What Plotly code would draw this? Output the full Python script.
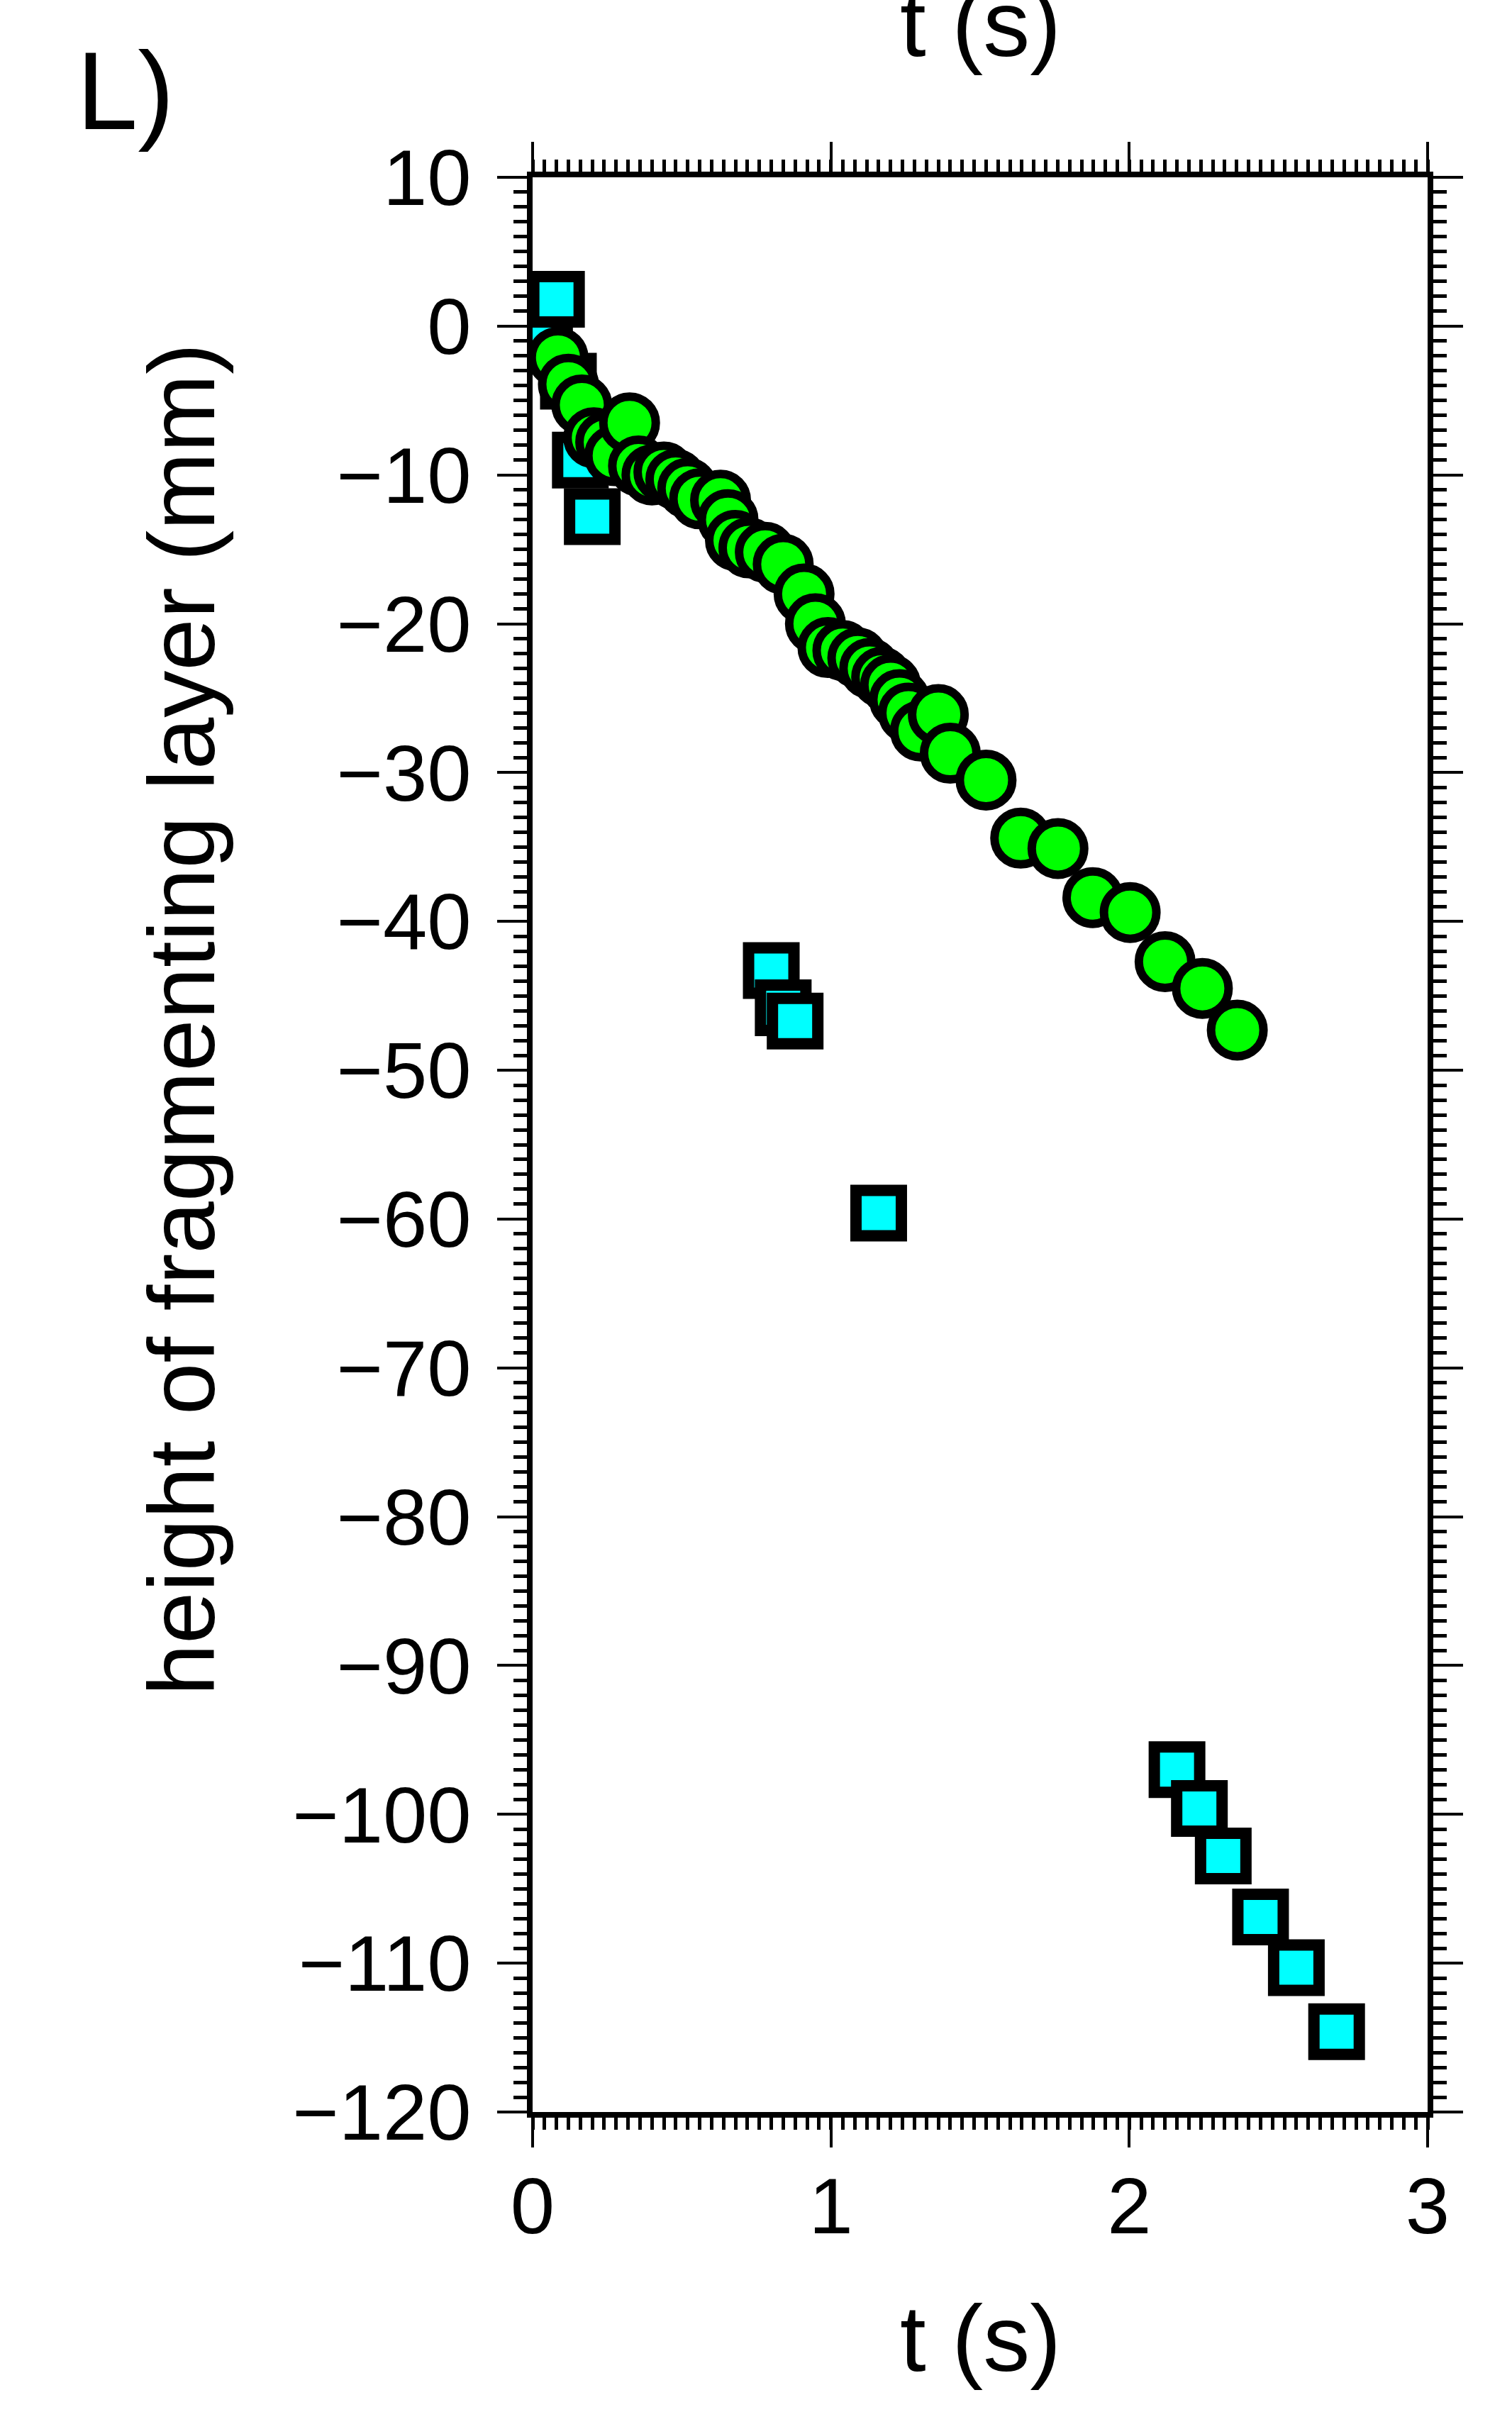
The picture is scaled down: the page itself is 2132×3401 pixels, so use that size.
import plotly.graph_objects as go

# Squares (cyan): t in s, height in mm
square_t = [0.04, 0.08, 0.12, 0.16, 0.20, 0.80, 0.84, 0.88, 1.16,
            2.16, 2.235, 2.315, 2.44, 2.56, 2.695]
square_h = [-1.2, 1.8, -3.7, -9.0, -12.8, -43.3, -45.8, -46.7, -59.6,
            -97.0, -99.6, -102.8, -106.9, -110.3, -114.6]

# Circles (green): t in s, height in mm
circle_t = [0.085, 0.12, 0.165, 0.205, 0.245, 0.275, 0.325, 0.355, 0.40, 0.44,
            0.48, 0.52, 0.56, 0.63, 0.655, 0.68, 0.725, 0.78, 0.84, 0.91,
            0.948, 0.99, 1.04, 1.09, 1.13, 1.17, 1.20, 1.23, 1.26, 1.30,
            1.36, 1.40, 1.52, 1.636, 1.761, 1.878, 2.003, 2.12, 2.245, 2.362]
circle_h = [-2.1, -3.9, -5.3, -7.5, -7.8, -8.7, -6.5, -9.4, -10.0, -9.8,
            -10.3, -10.9, -11.6, -11.7, -13.0, -14.4, -14.9, -15.2, -16.0, -18.0,
            -20.0, -21.6, -21.8, -22.3, -23.0, -23.6, -24.1, -25.1, -26.0, -27.2,
            -26.1, -28.7, -30.5, -34.4, -35.1, -38.4, -39.4, -42.7, -44.5, -47.3]

x_ticks = [0, 1, 2, 3]
x_tick_text = ["0", "1", "2", "3"]

FONT = "Liberation Sans, Arial, Helvetica, sans-serif"

fig = go.Figure()
fig.add_trace(go.Scatter(
    x=square_t, y=square_h, mode="markers",
    marker=dict(symbol="square", size=64, color="#00FFFF",
                line=dict(color="black", width=16)),
))
fig.add_trace(go.Scatter(
    x=circle_t, y=circle_h, mode="markers",
    marker=dict(symbol="circle", size=74, color="#00FF00",
                line=dict(color="black", width=12)),
))

axis_common = dict(
    showgrid=False, zeroline=False,
    showline=True, linecolor="black", linewidth=8,
    mirror="allticks",
    ticks="outside", ticklen=42, tickwidth=4, tickcolor="black",
    tickfont=dict(family=FONT, size=112, color="black"),
)

fig.update_xaxes(
    range=[0, 3], tickvals=x_ticks, ticktext=x_tick_text,
    ticklabelstandoff=-13,
    minor=dict(dtick=0.04, tick0=0, ticks="outside", ticklen=17,
               tickwidth=5, tickcolor="black", showgrid=False),
    **axis_common,
)
fig.update_yaxes(
    range=[-120, 10], dtick=10, tick0=0,
    ticklabelstandoff=14,
    minor=dict(dtick=1, tick0=0, ticks="outside", ticklen=19,
               tickwidth=5, tickcolor="black", showgrid=False),
    **axis_common,
)

fig.update_layout(
    width=2132, height=3401,
    margin=dict(l=751, r=119, t=250, b=423, pad=0),
    plot_bgcolor="white", paper_bgcolor="white",
    showlegend=False,
    font=dict(family=FONT, color="black"),
    annotations=[
        dict(text="height of fragmenting layer (mm)", textangle=-90,
             xref="paper", yref="paper", x=-0.392, y=0.5645,
             xanchor="center", yanchor="middle", showarrow=False,
             font=dict(size=132)),
        dict(text="t (s)", xref="paper", yref="paper", x=0.5, y=-0.117,
             xanchor="center", yanchor="middle", showarrow=False,
             font=dict(size=132)),
        dict(text="t (s)", xref="paper", yref="paper", x=0.5, y=1.0795,
             xanchor="center", yanchor="middle", showarrow=False,
             font=dict(size=132)),
        dict(text="L)", xref="paper", yref="paper", x=-0.455, y=1.0445,
             xanchor="center", yanchor="middle", showarrow=False,
             font=dict(size=155)),
    ],
)

fig.write_html("out.html")
